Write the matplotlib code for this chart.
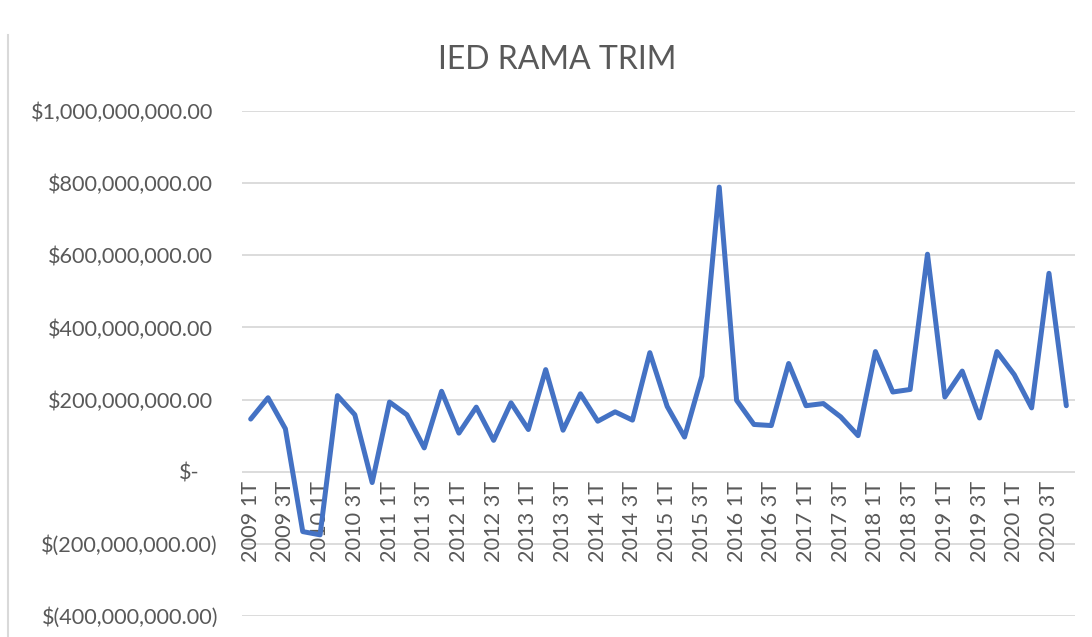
import matplotlib
matplotlib.use("Agg")
import matplotlib.pyplot as plt
from matplotlib import transforms
from matplotlib.lines import Line2D

# ---- data ----
years = list(range(2009, 2021))
quarters = ["1T", "2T", "3T", "4T"]
categories = [f"{y} {q}" for y in years for q in quarters]

ied_values = [
    146e6, 205e6, 119e6, -166e6, -175e6, 211e6, 158e6, -30e6,
    193e6, 158e6, 66e6, 223e6, 107e6, 179e6, 87e6, 191e6,
    117e6, 283e6, 115e6, 216e6, 140e6, 166e6, 143e6, 330e6,
    181e6, 96e6, 265e6, 789e6, 198e6, 131e6, 128e6, 300e6,
    183e6, 189e6, 152e6, 100e6, 333e6, 221e6, 228e6, 603e6,
    207e6, 279e6, 149e6, 333e6, 269e6, 177e6, 550e6, 183e6,
]

y_ticks = [-400e6, -200e6, 0, 200e6, 400e6, 600e6, 800e6, 1000e6]
title = "IED RAMA TRIM"

# ---- styling ----
W, H = 1092, 637
fig = plt.figure(figsize=(W / 100, H / 100), dpi=100)
font = ["Lato", "DejaVu Sans"]
txt_color = "#595959"
grid_color = "#D9D9D9"

left, right, top, bottom = 242, 1075, 111, 616
ax = fig.add_axes([left / W, (H - bottom) / H, (right - left) / W, (bottom - top) / H])
ax.set_xlim(-0.5, len(categories) - 0.5)
ax.set_ylim(y_ticks[0], y_ticks[-1])

for yv in y_ticks:
    ax.axhline(yv, color=grid_color, lw=1.3, zorder=1)

ax.plot(range(len(categories)), ied_values, color="#4472C4", lw=3.6,
        solid_joinstyle="round", solid_capstyle="round", zorder=3)

for s in ax.spines.values():
    s.set_visible(False)
ax.set_xticks([])
ax.set_yticks([])


def fmt(v):
    if v == 0:
        return "$-"
    s = f"{abs(v):,.2f}"
    return f"$({s})" if v < 0 else f"${s}"


# y labels
for yv in y_ticks:
    if yv > 0:
        xr = 213
    elif yv == 0:
        xr = 200
    else:
        xr = 218
    tr = transforms.blended_transform_factory(fig.transFigure, ax.transData)
    ax.text(xr / W, yv, fmt(yv), transform=tr, ha="right", va="center_baseline",
            fontsize=15.6, color=txt_color, family=font)

# x labels (every second quarter), hanging below the zero line
off = transforms.offset_copy(ax.transData, fig=fig, x=0, y=-9, units="dots")
for i, lab in enumerate(categories):
    if i % 2 == 0:
        ax.text(i, 0, lab, transform=off, rotation=90, ha="center", va="top",
                fontsize=15.6, color=txt_color, family=font, zorder=2)

fig.text(557 / W, 1 - 60 / H, title, ha="center", va="center", fontsize=23,
         color=txt_color, family=font)

fig.add_artist(Line2D([8 / W, 8 / W], [0, 1 - 35 / H], transform=fig.transFigure,
                      color=grid_color, lw=1.5))

fig.savefig("out.png", dpi=100, facecolor="white")
